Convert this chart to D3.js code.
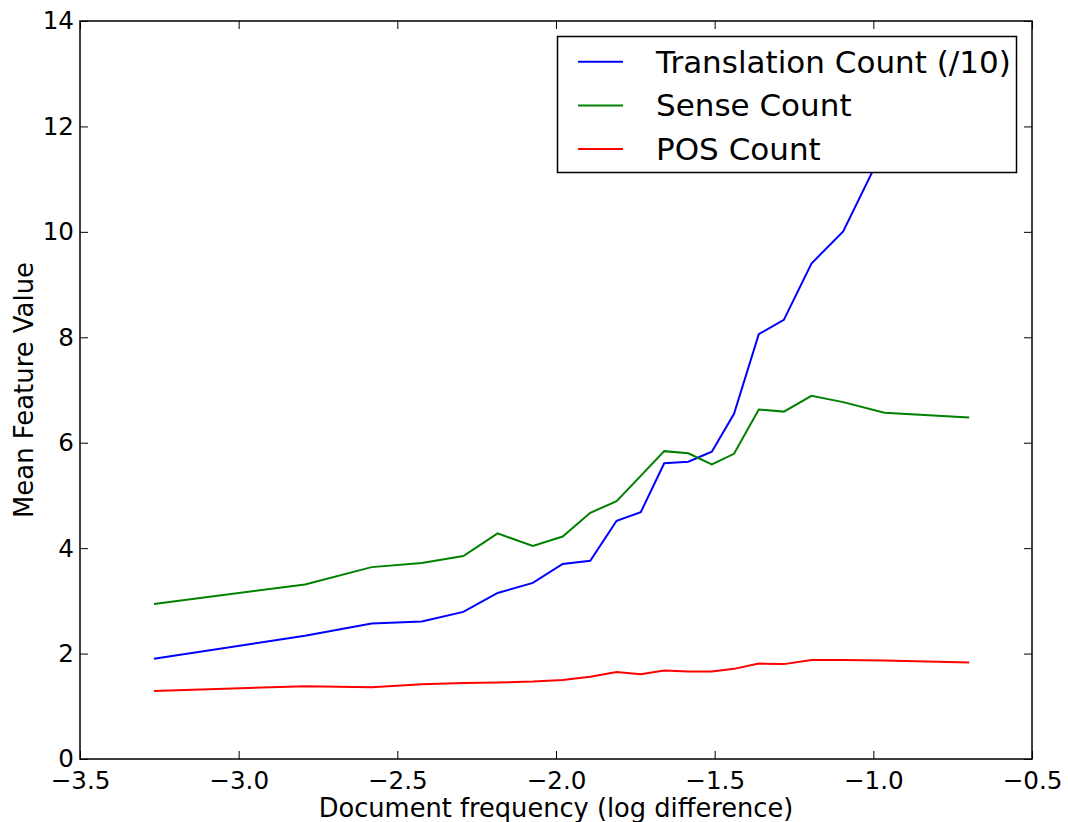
<!DOCTYPE html>
<html>
<head>
<meta charset="utf-8">
<script src="https://cdn.jsdelivr.net/npm/d3@7"></script>
<style>
  html, body { margin: 0; padding: 0; background: #fff; }
  svg { display: block; font-family: "DejaVu Sans", sans-serif; }
</style>
</head>
<body>
<svg id="chart" width="1068" height="822"></svg>
<script>
// Document-frequency bins (log difference)
const docFreq = [-3.267, -2.791, -2.581, -2.423, -2.292, -2.184, -2.073, -1.979, -1.892, -1.809,
                 -1.733, -1.659, -1.583, -1.509, -1.439, -1.361, -1.282, -1.195, -1.095, -0.965, -0.698];

// Mean feature values per bin
const translationCount = [1.90, 2.34, 2.57, 2.61, 2.79, 3.15, 3.34, 3.70, 3.76, 4.52,
                          4.68, 5.61, 5.64, 5.83, 6.55, 8.06, 8.33, 9.40, 10.01, 11.61, 13.2];
const senseCount = [2.94, 3.31, 3.64, 3.72, 3.85, 4.28, 4.04, 4.22, 4.67, 4.89,
                    5.37, 5.84, 5.80, 5.59, 5.79, 6.63, 6.59, 6.89, 6.77, 6.57, 6.48];
const posCount = [1.29, 1.38, 1.36, 1.42, 1.44, 1.45, 1.47, 1.50, 1.56, 1.65,
                  1.61, 1.68, 1.66, 1.66, 1.71, 1.81, 1.80, 1.88, 1.88, 1.87, 1.83];

const xTicks = [-3.5, -3.0, -2.5, -2.0, -1.5, -1.0, -0.5];
const yTicks = [0, 2, 4, 6, 8, 10, 12, 14];

const seriesNames = ["Translation Count (/10)", "Sense Count", "POS Count"];
const seriesColors = ["#0000ff", "#008000", "#ff0000"];
const seriesValues = [translationCount, senseCount, posCount];

const svg = d3.select("#chart");
const margin = { left: 80, right: 36, top: 21, bottom: 63 };
const W = 1068, H = 822;
const x0 = margin.left, x1 = W - margin.right, y0 = margin.top, y1 = H - margin.bottom;

const x = d3.scaleLinear().domain([-3.5, -0.5]).range([x0, x1]);
const y = d3.scaleLinear().domain([0, 14]).range([y1, y0]);

svg.append("defs").append("clipPath").attr("id", "plot-clip")
  .append("rect").attr("x", x0).attr("y", y0).attr("width", x1 - x0).attr("height", y1 - y0);

const minus = d => d3.format(".1f")(d).replace("-", "\u2212");

// Series lines
const line = d3.line().x((d, i) => x(docFreq[i])).y(d => y(d));
const lines = svg.append("g").attr("clip-path", "url(#plot-clip)");
seriesValues.forEach((vals, k) => {
  lines.append("path")
    .attr("d", line(vals))
    .attr("fill", "none")
    .attr("stroke", seriesColors[k])
    .attr("stroke-width", 2)
    .attr("stroke-linejoin", "miter");
});

// Axes with inward ticks on all four sides
const tickLen = 8;
const bottomAxis = d3.axisBottom(x).tickValues(xTicks).tickSizeInner(-tickLen).tickSizeOuter(0).tickPadding(13).tickFormat(minus);
const topAxis = d3.axisTop(x).tickValues(xTicks).tickSizeInner(-tickLen).tickSizeOuter(0).tickFormat("");
const leftAxis = d3.axisLeft(y).tickValues(yTicks).tickSizeInner(-tickLen).tickSizeOuter(0).tickPadding(6).tickFormat(d3.format("d"));
const rightAxis = d3.axisRight(y).tickValues(yTicks).tickSizeInner(-tickLen).tickSizeOuter(0).tickFormat("");

function styleAxis(g) {
  g.select(".domain").remove();
  g.selectAll(".tick line").attr("stroke", "#000").attr("stroke-width", 1);
  g.selectAll(".tick text").attr("fill", "#000").style("font-size", "24.6px").style("font-family", "DejaVu Sans, sans-serif");
}

svg.append("g").attr("transform", `translate(0,${y1})`).call(bottomAxis).call(styleAxis)
  .selectAll(".tick text").attr("dy", "0.71em");
svg.append("g").attr("transform", `translate(0,${y0})`).call(topAxis).call(styleAxis);
svg.append("g").attr("transform", `translate(${x0},0)`).call(leftAxis).call(styleAxis);
svg.append("g").attr("transform", `translate(${x1},0)`).call(rightAxis).call(styleAxis);

// Frame
svg.append("rect")
  .attr("x", x0).attr("y", y0).attr("width", x1 - x0).attr("height", y1 - y0)
  .attr("fill", "none").attr("stroke", "#000").attr("stroke-width", 1.5);

// Axis titles
svg.append("text")
  .attr("x", (x0 + x1) / 2).attr("y", 817)
  .attr("text-anchor", "middle")
  .style("font-size", "25.7px")
  .text("Document frequency (log difference)");

svg.append("text")
  .attr("transform", `translate(33,${(y0 + y1) / 2}) rotate(-90)`)
  .attr("text-anchor", "middle")
  .style("font-size", "25.9px")
  .text("Mean Feature Value");

// Legend
const legend = svg.append("g");
legend.append("rect")
  .attr("x", 557.5).attr("y", 36.5).attr("width", 459).attr("height", 136)
  .attr("fill", "#fff").attr("stroke", "#000").attr("stroke-width", 1.5);
seriesNames.forEach((name, k) => {
  const ly = 61.7 + k * 43.7;
  legend.append("line")
    .attr("x1", 578).attr("x2", 623).attr("y1", ly).attr("y2", ly)
    .attr("stroke", seriesColors[k]).attr("stroke-width", 2);
  legend.append("text")
    .attr("x", 656).attr("y", ly + 10.8)
    .style("font-size", "31px")
    .text(name);
});
</script>
</body>
</html>
